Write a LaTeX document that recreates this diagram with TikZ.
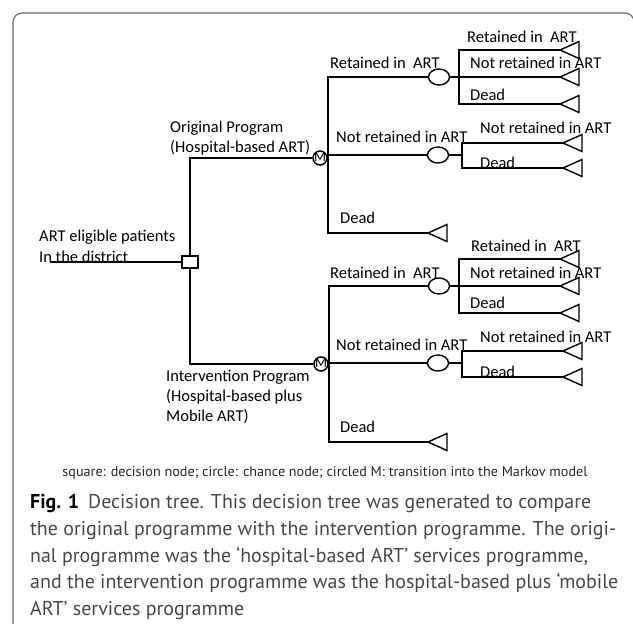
\documentclass[tikz,border=0pt]{standalone}
\usepackage{fontspec}
\setmainfont{Carlito}
\newfontfamily\capfont{PT Sans}
\usetikzlibrary{shapes.geometric}
\begin{document}
\begin{tikzpicture}[x=1pt,y=-1pt,
  br/.style={line width=1.7pt},
  thinbr/.style={line width=1.1pt},
  lbl/.style={anchor=west,inner sep=0pt,font=\fontsize{16.5}{20}\selectfont},
  chance/.style={ellipse,draw,line width=1.4pt,minimum width=21pt,minimum height=16pt,inner sep=0pt,fill=white},
  mnode/.style={circle,draw,line width=1.5pt,minimum size=14pt,inner sep=0pt,font=\fontsize{14}{14}\selectfont,fill=white},
  dec/.style={rectangle,draw,line width=1.4pt,minimum width=16pt,minimum height=12pt,inner sep=0pt,fill=white},
  tri/.style={line width=1.4pt},
  capline/.style={anchor=base west,inner sep=0pt,font=\capfont\fontsize{20}{26}\selectfont,text=black!72},
]
\useasboundingbox (0,0) rectangle (633,624);
% frame
\draw[black!60,line width=1.1pt,rounded corners=9pt] (13,630) -- (13,13) -- (634,13) -- (634,630);

% nodes
\node[dec] (D) at (190,262) {};
\node[mnode] (M1) at (320,158) {\raisebox{0pt}[0.5em][0pt]{M}};
\node[mnode] (M2) at (321,364) {\raisebox{0pt}[0.5em][0pt]{M}};
\node[chance] (C1) at (439,77) {};
\node[chance] (C2) at (438,155) {};
\node[chance] (C3) at (439,286) {};
\node[chance] (C4) at (438,363) {};

% terminal coordinates (triangle tips)
\coordinate (tD1) at (428,233);
\coordinate (tR1) at (560,50);
\coordinate (tR2) at (560,77);
\coordinate (tR3) at (560,104);
\coordinate (tS1) at (563,143);
\coordinate (tS2) at (563,168);
\coordinate (tD2) at (428,442);
\coordinate (tR4) at (560,259);
\coordinate (tR5) at (560,286);
\coordinate (tR6) at (560,313);
\coordinate (tS3) at (563,351);
\coordinate (tS4) at (563,377);
\coordinate (in) at (50,262);
\coordinate (n1) at (328,155);
\coordinate (n2) at (329,363);

% root
\draw[br] (in) -- (D.west);
\draw[br] (D.north) |- (M1.west);
\draw[br] (D.south) |- (M2.west);

% upper subtree
\draw[br] (C1.west) -| (328,233) -- (tD1);
\draw[thinbr] (n1) -- (C2.west);
\draw[br] (C1.east) -- (tR2);
\draw[br] (tR1) -| (459,104) -- (tR3);
\draw[thinbr] (C2.east) -- (462,155);
\draw[br] (tS1) -| (462,168) -- (tS2);

% lower subtree
\draw[br] (C3.west) -| (329,442) -- (tD2);
\draw[thinbr] (n2) -- (C4.west);
\draw[br] (C3.east) -- (tR5);
\draw[br] (tR4) -| (459,313) -- (tR6);
\draw[thinbr] (C4.east) -- (462,363);
\draw[br] (tS3) -| (462,377) -- (tS4);

% terminal triangles
\foreach \t in {tD1,tR1,tR2,tR3,tS1,tS2,tD2,tR4,tR5,tR6,tS3,tS4}
  \draw[tri,fill=white] (\t) -- ++(19,-8.5) -- ++(0,17) -- cycle;

% labels
\node[lbl] (lA1) at (39,237) {ART eligible patients};
\node[lbl] (lA2) at (39,257) {In the district};
\node[lbl] (lO1) at (170,128) {Original Program};
\node[lbl] (lO2) at (170,148) {(Hospital-based ART)};
\node[lbl] (lI1) at (166,377) {Intervention Program};
\node[lbl] (lI2) at (166,397) {(Hospital-based plus};
\node[lbl] (lI3) at (166,417) {Mobile ART)};

\node[lbl] (u1) at (330,63) {Retained in~ ART};
\node[lbl] (u2) at (336,137) {Not retained in ART};
\node[lbl] (u3) at (340,218) {Dead};
\node[lbl] (u4) at (467,37) {Retained in~ ART};
\node[lbl] (u5) at (470,63) {Not retained in ART};
\node[lbl] (u6) at (470,95) {Dead};
\node[lbl] (u7) at (480,128) {Not retained in ART};
\node[lbl] (u8) at (480,163) {Dead};

\node[lbl] (d1) at (330,273) {Retained in~ ART};
\node[lbl] (d2) at (336,345) {Not retained in ART};
\node[lbl] (d3) at (340,427) {Dead};
\node[lbl] (d4) at (471,246) {Retained in~ ART};
\node[lbl] (d5) at (470,273) {Not retained in ART};
\node[lbl] (d6) at (470,303) {Dead};
\node[lbl] (d7) at (480,337) {Not retained in ART};
\node[lbl] (d8) at (480,372) {Dead};

% legend
\node[inner sep=0pt,text=black!85] (legend) at (325,473)
  {\resizebox{525pt}{!}{\capfont square: decision node; circle: chance node; circled M: transition into the Markov model}};

% caption
\node[capline] (c1) at (30,508) {\resizebox{561pt}{\height}{\textcolor{black}{\textbf{Fig. 1}}\hspace{0.45em}Decision tree. This decision tree was generated to compare}};
\node[capline] (c2) at (30,535) {\resizebox{586pt}{\height}{the original programme with the intervention programme. The origi-}};
\node[capline] (c3) at (30,562) {\resizebox{558pt}{\height}{nal programme was the ‘hospital-based ART’ services programme,}};
\node[capline] (c4) at (30,588) {\resizebox{588pt}{\height}{and the intervention programme was the hospital-based plus ‘mobile}};
\node[capline] (c5) at (30,615) {\resizebox{214pt}{\height}{ART’ services programme}};
\end{tikzpicture}
\end{document}
